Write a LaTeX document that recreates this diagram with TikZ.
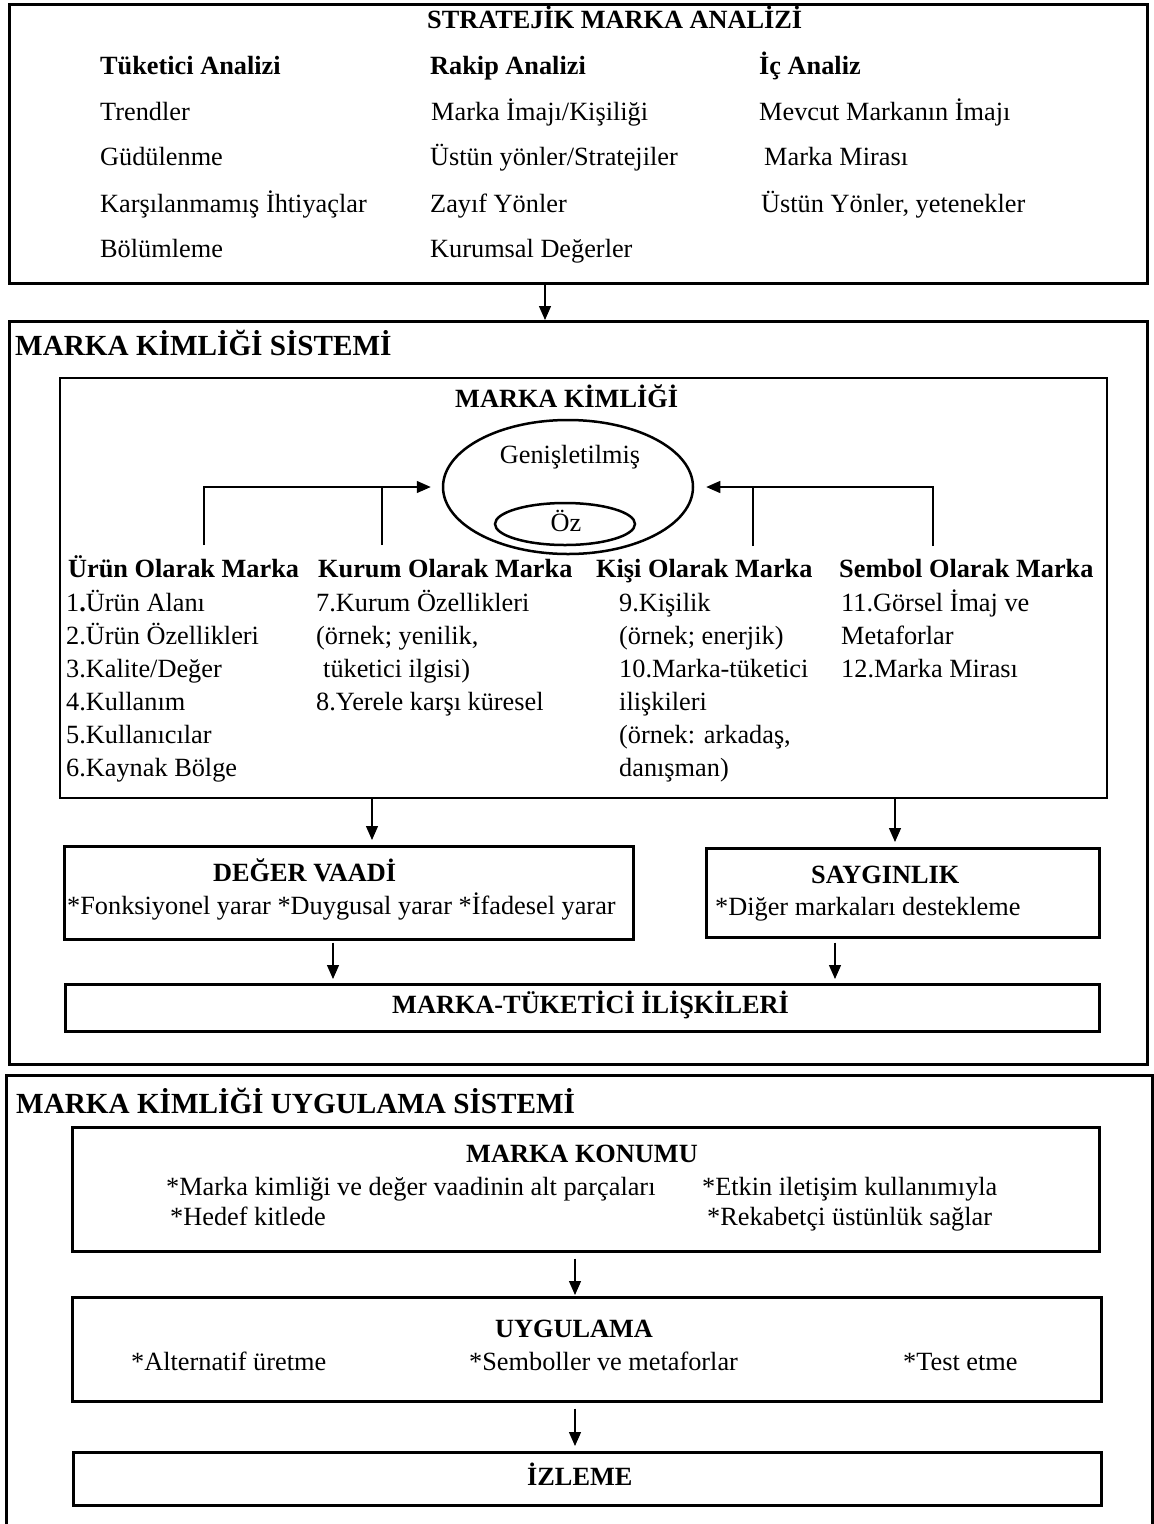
\documentclass[tikz,border=0pt]{standalone}
\usepackage{fontspec}
\setmainfont{Liberation Serif}
\usetikzlibrary{arrows.meta,shapes.geometric}
\tikzset{
  txt/.style={anchor=base west, inner sep=0pt, font=\fontsize{26.3}{30}\selectfont},
  ctxt/.style={anchor=base, inner sep=0pt, font=\fontsize{26.3}{30}\selectfont},
  btxt/.style={anchor=base west, inner sep=0pt, font=\fontsize{26.3}{30}\selectfont\bfseries},
  ttl/.style={anchor=base west, inner sep=0pt, font=\fontsize{29.2}{33}\selectfont\bfseries},
  frame/.style={draw, line width=2.5pt, rectangle, anchor=north west, inner sep=0pt},
  thinframe/.style={draw, line width=2pt, rectangle, anchor=north west, inner sep=0pt},
  conn/.style={line width=1.3pt},
  arr/.style={conn, -{Triangle[length=14pt,width=12pt]}},
  ell/.style={draw, ellipse, line width=2.5pt, inner sep=0pt}
}
\begin{document}
\begin{tikzpicture}[x=1pt,y=-1pt]
\useasboundingbox (0,0) rectangle (1154,1524);
% ---------------- boxes
\node[frame, minimum width=1138pt, minimum height=279pt] (b1) at (8,3) {};
\node[frame, minimum width=1138pt, minimum height=743pt] (b2) at (8,320) {};
\node[frame, minimum width=1146pt, minimum height=454pt] (b3) at (5,1074) {};
\node[thinframe, minimum width=1047pt, minimum height=420pt] (kim) at (59,377) {};
\node[frame, minimum width=569pt, minimum height=93pt] (deg) at (63,845) {};
\node[frame, minimum width=393pt, minimum height=89pt] (say) at (705,847) {};
\node[frame, minimum width=1034pt, minimum height=47pt] (mti) at (64,983) {};
\node[frame, minimum width=1027pt, minimum height=124pt] (kon) at (71,1126) {};
\node[frame, minimum width=1029pt, minimum height=104pt] (uyg) at (71,1296) {};
\node[frame, minimum width=1028pt, minimum height=53pt] (izl) at (72,1451) {};
% ---------------- box 1 texts
\node[btxt] (t0) at (427,28) {STRATEJİK MARKA ANALİZİ};
\node[btxt] (h1) at (100,74) {Tüketici Analizi};
\node[btxt] (h2) at (430,74) {Rakip Analizi};
\node[btxt] (h3) at (759,74) {İç Analiz};
\node[txt] (a1) at (100,120) {Trendler};
\node[txt] (a2) at (100,165) {Güdülenme};
\node[txt] (a3) at (100,212) {Karşılanmamış İhtiyaçlar};
\node[txt] (a4) at (100,257) {Bölümleme};
\node[txt] (r1) at (431,120) {Marka İmajı/Kişiliği};
\node[txt] (r2) at (430,165) {Üstün yönler/Stratejiler};
\node[txt] (r3) at (430,212) {Zayıf Yönler};
\node[txt] (r4) at (430,257) {Kurumsal Değerler};
\node[txt] (i1) at (759,120) {Mevcut Markanın İmajı};
\node[txt] (i2) at (764,165) {Marka Mirası};
\node[txt] (i3) at (761,212) {Üstün Yönler, yetenekler};
% ---------------- box 2 texts
\node[ttl] (t2) at (15,355) {MARKA KİMLİĞİ SİSTEMİ};
\node[btxt] (tk) at (455,407) {MARKA KİMLİĞİ};
\node[ell, minimum width=250pt, minimum height=134pt] (outer) at (568,487) {};
\node[ell, minimum width=140pt, minimum height=42pt] (inner) at (565,524) {};
\node[ctxt] (gen) at (570,463) {Genişletilmiş};
\node[ctxt] (oz) at (566,531) {Öz};
\node[btxt] (k1) at (68,577) {Ürün Olarak Marka};
\node[btxt] (k2) at (318,577) {Kurum Olarak Marka};
\node[btxt] (k3) at (596,577) {Kişi Olarak Marka};
\node[btxt] (k4) at (839,577) {Sembol Olarak Marka};
\node[txt] (u1) at (66,611) {1\textbf{.}Ürün Alanı};
\node[txt] (u2) at (66,644) {2.Ürün Özellikleri};
\node[txt] (u3) at (66,677) {3.Kalite/Değer};
\node[txt] (u4) at (66,710) {4.Kullanım};
\node[txt] (u5) at (66,743) {5.Kullanıcılar};
\node[txt] (u6) at (66,776) {6.Kaynak Bölge};
\node[txt] (c1) at (316,611) {7.Kurum Özellikleri};
\node[txt] (c2) at (316,644) {(örnek; yenilik,};
\node[txt] (c3) at (323,677) {tüketici ilgisi)};
\node[txt] (c4) at (316,710) {8.Yerele karşı küresel};
\node[txt] (p1) at (619,611) {9.Kişilik};
\node[txt] (p2) at (619,644) {(örnek; enerjik)};
\node[txt] (p3) at (619,677) {10.Marka-tüketici};
\node[txt] (p4) at (619,710) {ilişkileri};
\node[txt] (p5) at (619,743) {(örnek: arkadaş,};
\node[txt] (p6) at (619,776) {danışman)};
\node[txt] (s1) at (841,611) {11.Görsel İmaj ve};
\node[txt] (s2) at (841,644) {Metaforlar};
\node[txt] (s3) at (841,677) {12.Marka Mirası};
\node[btxt] (dt) at (213,881) {DEĞER VAADİ};
\node[txt] (dl) at (67,914) {*Fonksiyonel yarar *Duygusal yarar *İfadesel yarar};
\node[btxt] (st) at (811,883) {SAYGINLIK};
\node[txt] (sl) at (715,915) {*Diğer markaları destekleme};
\node[btxt] (mt) at (392,1013) {MARKA-TÜKETİCİ İLİŞKİLERİ};
% ---------------- box 3 texts
\node[ttl] (t3) at (16,1113) {MARKA KİMLİĞİ UYGULAMA SİSTEMİ};
\node[btxt] (kt) at (466,1162) {MARKA KONUMU};
\node[txt] (kl1) at (166,1195) {*Marka kimliği ve değer vaadinin alt parçaları};
\node[txt] (kl2) at (702,1195) {*Etkin iletişim kullanımıyla};
\node[txt] (kl3) at (170,1225) {*Hedef kitlede};
\node[txt] (kl4) at (707,1225) {*Rekabetçi üstünlük sağlar};
\node[btxt] (ut) at (495,1337) {UYGULAMA};
\node[txt] (ul1) at (131,1370) {*Alternatif üretme};
\node[txt] (ul2) at (469,1370) {*Semboller ve metaforlar};
\node[txt] (ul3) at (903,1370) {*Test etme};
\node[btxt] (it) at (527,1485) {İZLEME};
% ---------------- connectors
\coordinate (x545) at (545,0);
\coordinate (x372) at (372,0);
\coordinate (x895) at (895,0);
\coordinate (x333) at (333,0);
\coordinate (x835) at (835,0);
\coordinate (x575) at (575,0);
\draw[arr] (b1.south -| x545) -- (b2.north -| x545);
\draw[arr, shorten >=5pt] (kim.south -| x372) -- (deg.north -| x372);
\draw[arr, shorten >=5pt] (kim.south -| x895) -- (say.north -| x895);
\draw[arr, shorten <=2pt, shorten >=4pt] (deg.south -| x333) -- (mti.north -| x333);
\draw[arr, shorten <=4pt, shorten >=4pt] (say.south -| x835) -- (mti.north -| x835);
\draw[arr, shorten <=6pt, shorten >=1pt] (kon.south -| x575) -- (uyg.north -| x575);
\draw[arr, shorten <=6pt, shorten >=5pt] (uyg.south -| x575) -- (izl.north -| x575);
% ellipse feeders
\coordinate (lv1) at (204,545);
\coordinate (lv2) at (382,545);
\coordinate (rv1) at (933,546);
\coordinate (rv2) at (753,546);
\draw[arr, shorten >=11pt] (lv1) |- (outer.west);
\draw[conn] (lv2) -- (lv2 |- outer.west);
\draw[arr, shorten >=12pt] (rv1) |- (outer.east);
\draw[conn] (rv2) -- (rv2 |- outer.east);
\end{tikzpicture}
\end{document}
